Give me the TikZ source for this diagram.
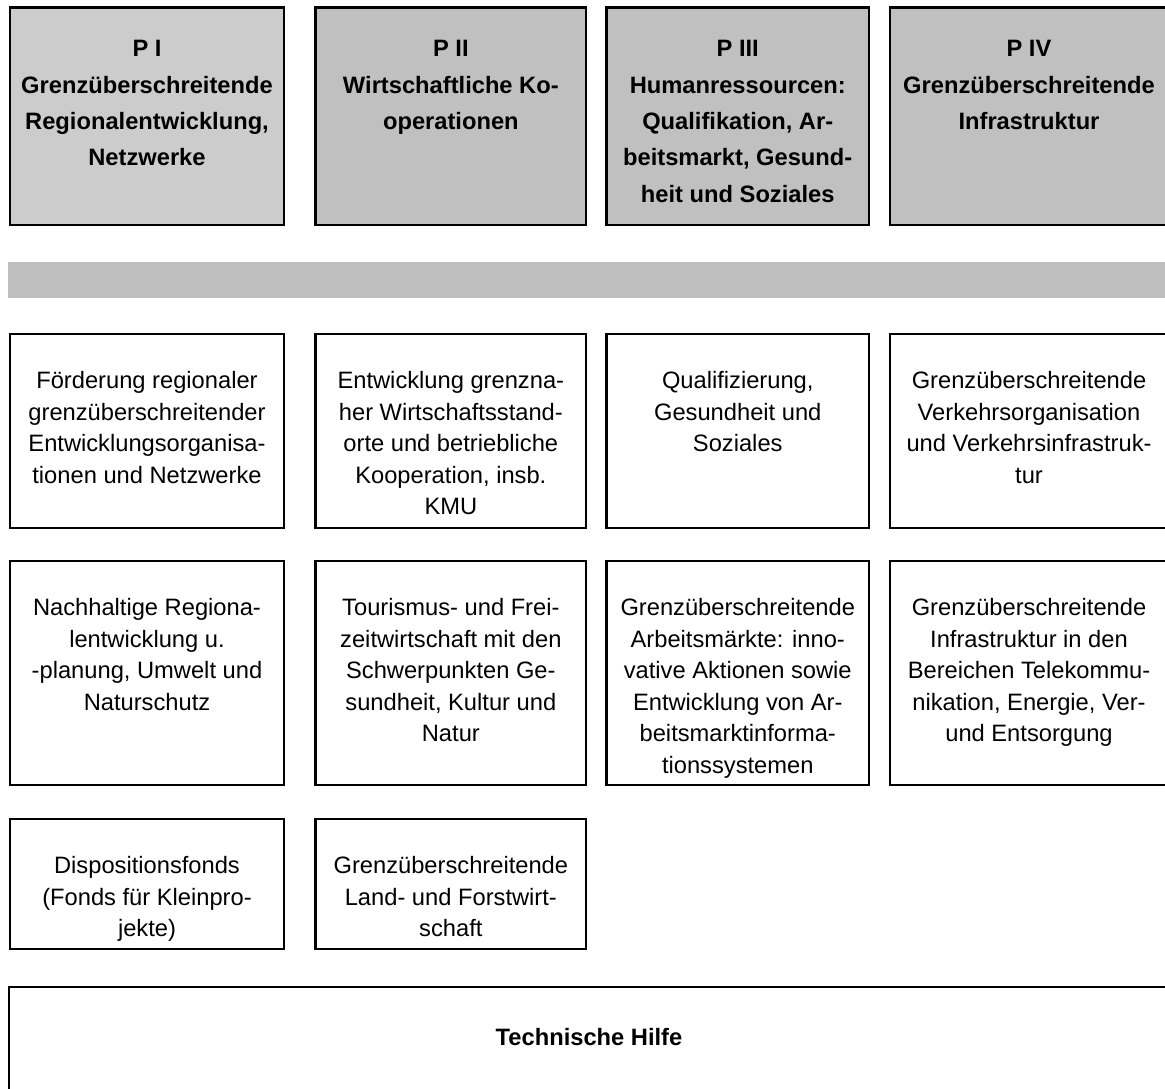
\documentclass[tikz,border=0pt]{standalone}
\usepackage{fontspec}
\setmainfont{Liberation Sans}
\usetikzlibrary{positioning}

\definecolor{prgray}{HTML}{C0C0C0}
\definecolor{prlight}{HTML}{CCCCCC}
\definecolor{bargray}{HTML}{BFBFBF}

\tikzset{
  prio/.style={draw, line width=2.6pt, fill=prgray, anchor=north west,
    inner sep=0pt, outer sep=0pt, minimum height=217.7pt},
  cell/.style={draw, line width=2.6pt, fill=white, anchor=north west,
    inner sep=0pt, outer sep=0pt},
  priotext/.style={align=center, inner sep=0pt,
    font=\bfseries\fontsize{23.7}{36.4}\selectfont, execute at begin node=\strut},
  celltext/.style={align=center, inner sep=0pt,
    font=\fontsize{23.7}{31.5}\selectfont, execute at begin node=\strut}
}

\begin{document}
\begin{tikzpicture}[x=1pt, y=-1pt]
  \useasboundingbox (0,0) rectangle (1165,1089);
  \clip (0,0) rectangle (1165,1089);
  % priority axes
  \node[prio, fill=prlight, minimum width=274pt] (p1) at (10,7.3) {};
  \node[prio, minimum width=270.3pt] (p2) at (315.7,7.3) {};
  \node[prio, minimum width=262.5pt] (p3) at (606.5,7.3) {};
  \node[prio, minimum width=278pt] (p4) at (890,7.3) {};
  \node[priotext, below=32.9pt of p1.north] (p1t) {P I\\Grenzüberschreitende\\Regionalentwicklung,\\Netzwerke};
  \node[priotext, below=32.9pt of p2.north] (p2t) {P II\\Wirtschaftliche Ko-\\operationen};
  \node[priotext, below=32.9pt of p3.north] (p3t) {P III\\Humanressourcen:\\Qualifikation, Ar-\\beitsmarkt, Gesund-\\heit und Soziales};
  \node[priotext, below=32.9pt of p4.north] (p4t) {P IV\\Grenzüberschreitende\\Infrastruktur};
  % grey band
  \fill[bargray] (8,262) rectangle (1170,298);
  % measures, first row
  \node[cell, minimum width=274pt, minimum height=194pt] (a1) at (10,334) {};
  \node[cell, minimum width=270.3pt, minimum height=194pt] (a2) at (315.7,334) {};
  \node[cell, minimum width=262.5pt, minimum height=194pt] (a3) at (606.5,334) {};
  \node[cell, minimum width=278pt, minimum height=194pt] (a4) at (890,334) {};
  \node[celltext, below=37.5pt of a1.north] (a1t) {Förderung regionaler\\grenzüberschreitender\\Entwicklungsorganisa-\\tionen und Netzwerke};
  \node[celltext, below=37.5pt of a2.north] (a2t) {Entwicklung grenzna-\\her Wirtschaftsstand-\\orte und betriebliche\\Kooperation, insb.\\KMU};
  \node[celltext, below=37.5pt of a3.north] (a3t) {Qualifizierung,\\Gesundheit und\\Soziales};
  \node[celltext, below=37.5pt of a4.north] (a4t) {Grenzüberschreitende\\Verkehrsorganisation\\und Verkehrsinfrastruk-\\tur};
  % measures, second row
  \node[cell, minimum width=274pt, minimum height=224pt] (b1) at (10,561) {};
  \node[cell, minimum width=270.3pt, minimum height=224pt] (b2) at (315.7,561) {};
  \node[cell, minimum width=262.5pt, minimum height=224pt] (b3) at (606.5,561) {};
  \node[cell, minimum width=278pt, minimum height=224pt] (b4) at (890,561) {};
  \node[celltext, below=37.5pt of b1.north] (b1t) {Nachhaltige Regiona-\\lentwicklung u.\\-planung, Umwelt und\\Naturschutz};
  \node[celltext, below=37.5pt of b2.north] (b2t) {Tourismus- und Frei-\\zeitwirtschaft mit den\\Schwerpunkten Ge-\\sundheit, Kultur und\\Natur};
  \node[celltext, below=37.5pt of b3.north] (b3t) {Grenzüberschreitende\\Arbeitsmärkte: inno-\\vative Aktionen sowie\\Entwicklung von Ar-\\beitsmarktinforma-\\tionssystemen};
  \node[celltext, below=37.5pt of b4.north] (b4t) {Grenzüberschreitende\\Infrastruktur in den\\Bereichen Telekommu-\\nikation, Energie, Ver-\\und Entsorgung};
  % measures, third row
  \node[cell, minimum width=274pt, minimum height=130pt] (c1) at (10,819) {};
  \node[cell, minimum width=270.3pt, minimum height=130pt] (c2) at (315.7,819) {};
  \node[celltext, below=37.5pt of c1.north] (c1t) {Dispositionsfonds\\(Fonds für Kleinpro-\\jekte)};
  \node[celltext, below=37.5pt of c2.north] (c2t) {Grenzüberschreitende\\Land- und Forstwirt-\\schaft};
  % technical assistance
  \node[cell, minimum width=1160pt, minimum height=130pt] (th) at (9,987) {};
  \node[priotext, below=32.5pt of th.north] (tht) {Technische Hilfe};
\end{tikzpicture}
\end{document}
